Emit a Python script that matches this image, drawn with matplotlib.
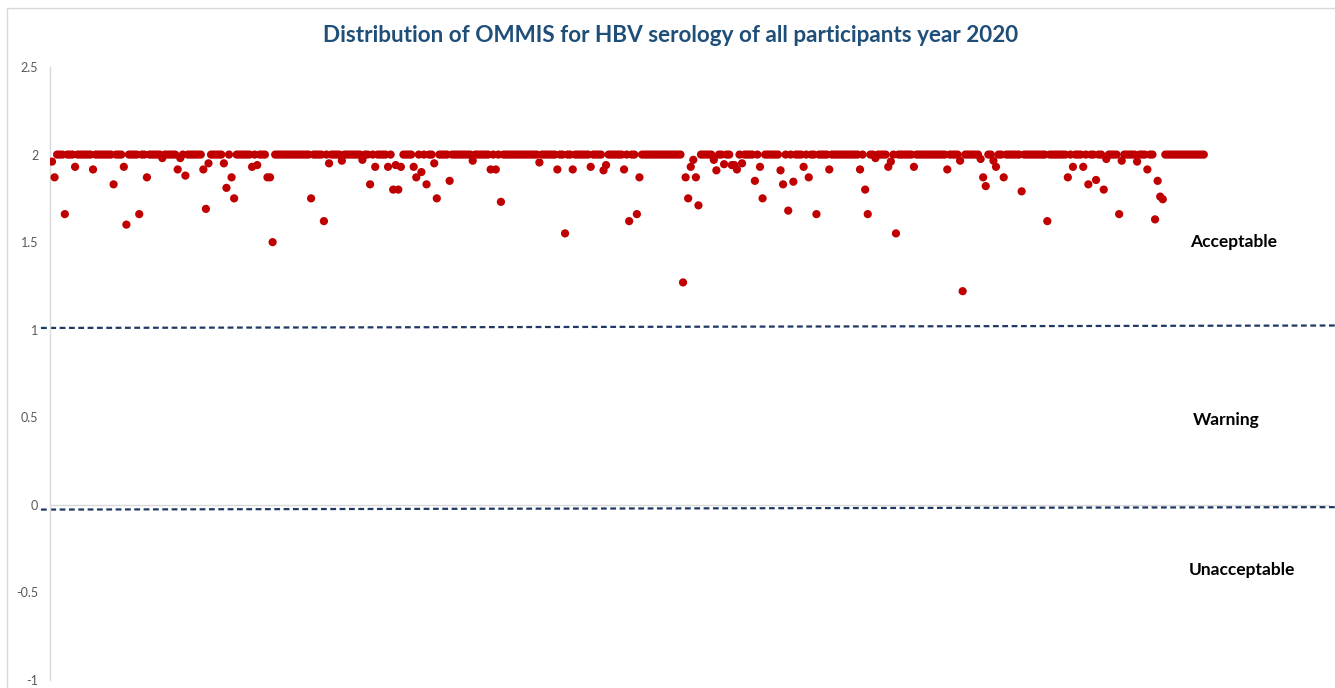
import matplotlib
matplotlib.use("Agg")
import matplotlib.pyplot as plt
from matplotlib.patches import Rectangle
import numpy as np

# ---- data ----
n_participants = 450
typical_score = 2.0
outlier_idx = [1, 2, 6, 10, 17, 25, 29, 30, 35, 38, 44, 50, 51, 53, 60, 61, 62, 68, 69, 71,
               72, 79, 81, 85, 86, 87, 102, 107, 109, 114, 122, 125, 127, 132, 134, 135, 136, 137, 142, 143,
               145, 147, 150, 151, 156, 165, 172, 174, 176, 191, 198, 201, 204, 211, 216, 217, 224, 226, 229, 230,
               247, 248, 249, 250, 251, 252, 253, 259, 260, 263, 266, 267, 268, 270, 275, 277, 278, 285, 286, 288,
               290, 294, 296, 299, 304, 316, 318, 319, 322, 327, 328, 330, 337, 350, 355, 356, 363, 364, 365, 368,
               369, 372, 379, 389, 397, 399, 403, 405, 408, 411, 412, 417, 418, 424, 428, 431, 432, 433, 434]
outlier_val = [1.96, 1.87, 1.66, 1.93, 1.915, 1.83, 1.93, 1.60, 1.66, 1.87, 1.98, 1.915, 1.98, 1.88, 1.915, 1.69, 1.95, 1.95, 1.81, 1.87,
               1.75, 1.93, 1.94, 1.87, 1.87, 1.50, 1.75, 1.62, 1.95, 1.965, 1.97, 1.83, 1.93, 1.93, 1.80, 1.94, 1.80, 1.93, 1.93, 1.87,
               1.90, 1.83, 1.95, 1.75, 1.85, 1.965, 1.915, 1.915, 1.73, 1.955, 1.915, 1.55, 1.915, 1.93, 1.91, 1.94, 1.915, 1.62, 1.66, 1.87,
               1.27, 1.87, 1.75, 1.93, 1.97, 1.87, 1.71, 1.97, 1.91, 1.945, 1.94, 1.94, 1.915, 1.95, 1.85, 1.93, 1.75, 1.91, 1.83, 1.68,
               1.845, 1.93, 1.87, 1.66, 1.915, 1.915, 1.80, 1.66, 1.98, 1.93, 1.96, 1.55, 1.93, 1.915, 1.965, 1.22, 1.975, 1.87, 1.82, 1.965,
               1.93, 1.87, 1.79, 1.62, 1.87, 1.93, 1.93, 1.83, 1.855, 1.80, 1.975, 1.66, 1.965, 1.96, 1.915, 1.63, 1.85, 1.76, 1.745]

upper_limit = (1.010, 1.024)   # drawn slightly tilted as in the source
lower_limit = (-0.027, -0.013)
zone_labels = ["Acceptable", "Warning", "Unacceptable"]
zone_label_y = [1.50, 0.483, -0.374]
yticks = [-1, -0.5, 0, 0.5, 1, 1.5, 2, 2.5]
ytick_labels = ["-1", "-0.5", "0", "0.5", "1", "1.5", "2", "2.5"]
title = "Distribution of OMMIS for HBV serology of all participants year 2020"

# ---- build series ----
x = np.arange(1, n_participants + 1)
y = np.full(n_participants, typical_score)
for i, v in zip(outlier_idx, outlier_val):
    y[i - 1] = v

W, H = 1335, 688
fig = plt.figure(figsize=(W / 100, H / 100), dpi=100)
fig.patch.set_facecolor("white")

def fx(px): return px / W
def fy(py): return 1 - py / H

ax = fig.add_axes([fx(50), fy(680), fx(1330) - fx(50), fy(67) - fy(680)])
ax.set_xlim(0.22, 499.2)
ax.set_ylim(-1, 2.5)

ax.scatter(x, y, s=35, color="#c00000", edgecolors="none", zorder=3)

# axis zero line
ax.axhline(0, color="#d9d9d9", lw=1.0, zorder=1)

# threshold lines (extend a little past left axis)
xl0, xl1 = -3.3, 501.2
for (a, b) in (upper_limit, lower_limit):
    ax.plot([xl0, xl1], [a, b], color="#1f3864", lw=1.6, ls=(0, (2.6, 1.6)),
            clip_on=False, zorder=2)

for lab, yy, xc in zip(zone_labels, zone_label_y, [1233, 1226, 1242]):
    ax.text(0.22 + (xc - 50) / 2.565, yy, lab, ha="center", va="center",
            fontsize=12.5, fontweight="bold", family="Lato", color="black")

for s in ["top", "right", "bottom"]:
    ax.spines[s].set_visible(False)
ax.spines["left"].set_color("#d9d9d9")
ax.spines["left"].set_linewidth(1.0)
ax.set_xticks([])
ax.set_yticks(yticks)
ax.set_yticklabels(ytick_labels, family="Lato", fontsize=9, color="#595959")
ax.tick_params(axis="y", length=0, pad=8.5)

fig.text(fx(671), fy(35), title, ha="center", va="center", fontsize=16.2,
         fontweight="bold", family="Lato", color="#1f4e79")

# chart border
fig.patches.append(Rectangle((fx(7), fy(700)), 1.2, fy(8) - fy(700), transform=fig.transFigure,
                             fill=False, edgecolor="#d9d9d9", lw=1.0))

fig.savefig("out.png", dpi=100, facecolor="white")
